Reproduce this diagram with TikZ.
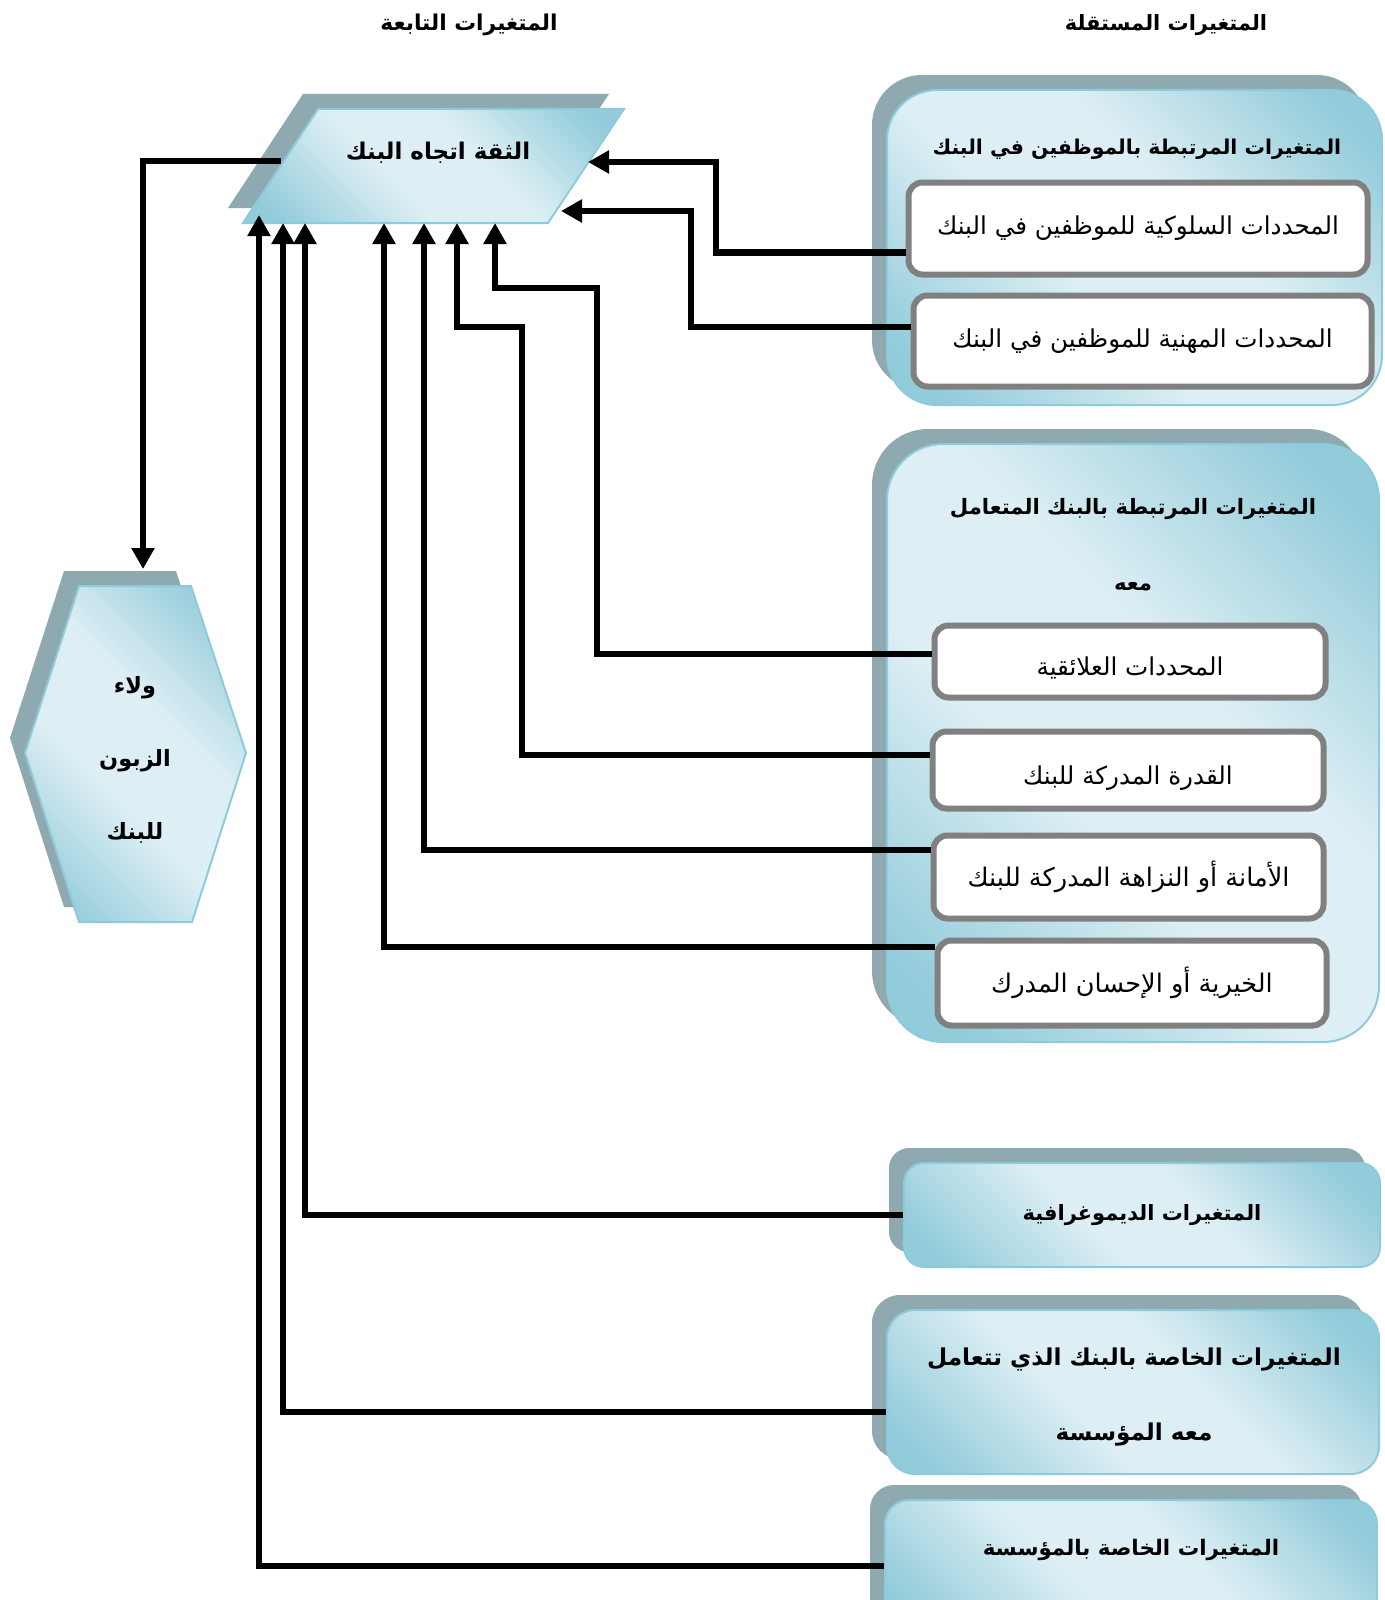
\documentclass[tikz,border=0pt]{standalone}
\usepackage{fontspec}
\usetikzlibrary{arrows.meta,shadows}
\newfontfamily\arabicfont[Script=Arabic]{DejaVu Sans}
\TeXXeTstate=1
\definecolor{lt}{HTML}{DDEFF4}
\definecolor{dk}{HTML}{92CBDA}
\definecolor{edgeblue}{HTML}{8DCBDC}
\definecolor{shd}{HTML}{8FA9B1}
\definecolor{boxgray}{HTML}{808080}
\pgfdeclareverticalshading{bluesh}{100bp}{color(0bp)=(dk); color(20bp)=(dk); color(42bp)=(lt); color(58bp)=(lt); color(80bp)=(dk); color(100bp)=(dk)}
\newcommand\AR[1]{\beginR #1\endR}
\begin{document}
\begin{tikzpicture}[x=0.5pt,y=-0.5pt,
 shaded/.style={draw=edgeblue, line width=1pt, shading=bluesh, shading angle=-45},
 shad/.style={drop shadow={opacity=1, fill=shd, draw=none, shadow xshift=-7.5pt, shadow yshift=7.5pt}},
 group/.style={shaded, shad, rounded corners=#1, inner sep=0pt},
 inbox/.style={draw=boxgray, line width=3pt, fill=white, rounded corners=7pt, inner sep=0pt},
 txt/.style={font=\arabicfont\fontsize{12.3}{14}\selectfont},
 lowtxt/.style={text height=14pt, text depth=0pt},
 conn/.style={line width=3.2pt, line join=miter},
 arr/.style={conn, -{Triangle[length=10.5pt,width=11pt]}},
]
\useasboundingbox (0,0) rectangle (1385,1600);

% headings
\node[font=\arabicfont\bfseries\fontsize{10.9}{14}\selectfont] (hdep) at (469,25) {\AR{المتغيرات التابعة}};
\node[font=\arabicfont\bfseries\fontsize{10.5}{14}\selectfont] (hind) at (1166,25) {\AR{المتغيرات المستقلة}};

% trust (parallelogram)
\path[shaded, shad] (318,109) -- (624,109) -- (548,223) -- (243,223) -- cycle;
\node[font=\arabicfont\bfseries\fontsize{11.5}{14}\selectfont] (trust) at (438,153) {\AR{الثقة اتجاه البنك}};
\coordinate (tL) at (281,161);
\coordinate (tR1) at (588,162);
\coordinate (tR2) at (561,211);
\coordinate (tb1) at (259,215);
\coordinate (tb2) at (283,223);
\coordinate (tb3) at (305,223);
\coordinate (tb4) at (384,223);
\coordinate (tb5) at (424,223);
\coordinate (tb6) at (457,223);
\coordinate (tb7) at (495,223);

% loyalty (hexagon)
\path[shaded, shad] (79,586) -- (191,586) -- (246,753) -- (192,922) -- (79,922) -- (25,753) -- cycle;
\node[align=center, font=\arabicfont\bfseries\fontsize{11.2}{36.5}\selectfont] (loyal) at (135,760)
  {\AR{ولاء}\\\AR{الزبون}\\\AR{للبنك}};
\coordinate (hx) at (143,569);

% group 1
\node[group=25pt, minimum width=247.5pt, minimum height=157.5pt] (g1) at (1134.5,247.5) {};
\node[font=\arabicfont\bfseries\fontsize{10.2}{14}\selectfont] (g1t) at (1137,149) {\AR{المتغيرات المرتبطة بالموظفين في البنك}};
\node[inbox, txt, minimum width=229.5pt, minimum height=46pt] (b1) at (1138,228.5) {\AR{المحددات السلوكية للموظفين في البنك}};
\node[inbox, txt, minimum width=229pt, minimum height=45.5pt] (b2) at (1142.5,341) {\AR{المحددات المهنية للموظفين في البنك}};

% group 2
\node[group=28pt, minimum width=246pt, minimum height=299pt] (g2) at (1133,743) {};
\node[align=center, font=\arabicfont\bfseries\fontsize{10.6}{38}\selectfont] (g2t) at (1133,545)
  {\AR{المتغيرات المرتبطة بالبنك المتعامل}\\\AR{معه}};
\node[inbox, txt, lowtxt, minimum width=195.5pt, minimum height=36pt] (b3) at (1130,661.5) {\AR{المحددات العلائقية}};
\node[inbox, txt, lowtxt, minimum width=195.5pt, minimum height=38.5pt] (b4) at (1128,770) {\AR{القدرة المدركة للبنك}};
\node[inbox, txt, font=\arabicfont\fontsize{12.8}{14}\selectfont, minimum width=195pt, minimum height=41.5pt] (b5) at (1128.5,877) {\AR{الأمانة أو النزاهة المدركة للبنك}};
\node[inbox, txt, font=\arabicfont\fontsize{12.8}{14}\selectfont, minimum width=194.5pt, minimum height=42.5pt] (b6) at (1132,983) {\AR{الخيرية أو الإحسان المدرك}};

% group 3
\node[group=10pt, font=\arabicfont\bfseries\fontsize{10.5}{14}\selectfont, minimum width=238pt, minimum height=52pt] (g3) at (1142,1215) {\AR{المتغيرات الديموغرافية}};

% group 4
\node[group=14pt, minimum width=246pt, minimum height=82pt] (g4) at (1133,1392) {};
\node[align=center, font=\arabicfont\bfseries\fontsize{11.6}{37.5}\selectfont] (g4t) at (1134,1397)
  {\AR{المتغيرات الخاصة بالبنك الذي تتعامل}\\\AR{معه المؤسسة}};

% group 5
\node[group=12pt, minimum width=246pt, minimum height=68pt] (g5) at (1131,1568) {};
\node[font=\arabicfont\bfseries\fontsize{10.7}{14}\selectfont] (g5t) at (1131,1550) {\AR{المتغيرات الخاصة بالمؤسسة}};

% connectors
\draw[arr] (tL) -| (hx);
\draw[arr] ([yshift=-12pt]b1.west) -| (716,162) -- (tR1);
\draw[arr] ([yshift=7pt]b2.west) -| (691,211) -- (tR2);
\coordinate (k3) at (597,288);
\coordinate (k4) at (522,327);
\draw[arr] ([yshift=3.75pt]b3.west) -| (k3) -| (tb7);
\draw[arr] ([yshift=7.5pt]b4.west) -| (k4) -| (tb6);
\draw[arr] ([yshift=13.5pt]b5.west) -| (tb5);
\draw[arr] ([yshift=18pt]b6.west) -| (tb4);
\draw[arr] (g3.west) -| (tb3);
\draw[arr] ([yshift=-10pt]g4.west) -| (tb2);
\draw[arr] ([yshift=1pt]g5.west) -| (tb1);
\end{tikzpicture}
\end{document}
